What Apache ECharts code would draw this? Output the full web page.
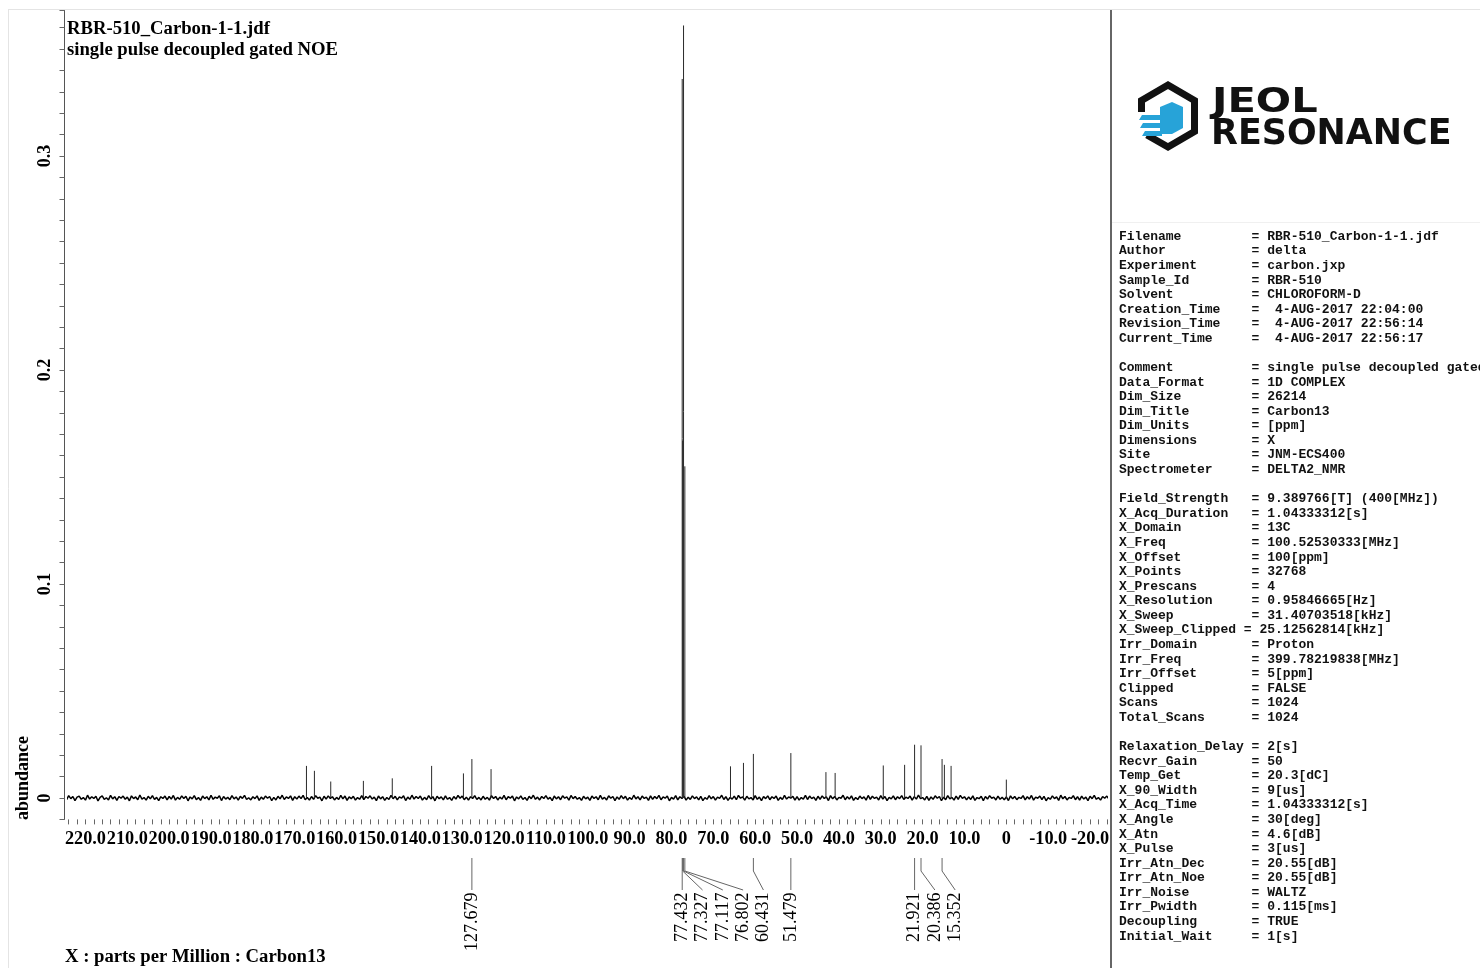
<!DOCTYPE html>
<html>
<head>
<meta charset="utf-8">
<script src="https://cdn.jsdelivr.net/npm/echarts@6/dist/echarts.min.js"></script>
<style>
html,body{margin:0;padding:0;background:#fff;}
#chart{width:1480px;height:968px;}
</style>
</head>
<body>
<div id="chart"></div>
<script>
// ---------------- DATA ----------------
const titleLines = ['RBR-510_Carbon-1-1.jdf', 'single pulse decoupled gated NOE'];
const xAxisTitle = 'X : parts per Million : Carbon13';
const yAxisTitle = 'abundance';

// axis extents (ppm, abundance)
const xRange = [-24, 224];
const yRange = [-0.01, 0.368];

// resolved peaks: chemical shift (ppm) and height (abundance)
const peakPpm = [167.2, 165.3, 161.4, 153.6, 146.7, 137.3, 129.7, 127.679, 123.1,
  77.432, 77.327, 77.117, 76.802, 65.9, 62.8, 60.431, 51.479, 43.1, 40.9, 29.4, 24.3,
  21.921, 20.386, 15.352, 14.8, 13.2, 0.0];
const peakHeight = [0.0150, 0.0127, 0.0077, 0.0080, 0.0092, 0.0150, 0.0115, 0.0182, 0.0135,
  0.336, 0.167, 0.361, 0.155, 0.0148, 0.0164, 0.0206, 0.0210, 0.0121, 0.0117, 0.0152, 0.0155,
  0.0249, 0.0246, 0.0182, 0.0155, 0.0150, 0.0086];

// peaks carrying a shift label below the axis
const labelPpm = [127.679, 77.432, 77.327, 77.117, 76.802, 60.431, 51.479, 21.921, 20.386, 15.352];

// baseline noise, sampled every 0.5 ppm from 225 ppm downward (units of 1e-4 abundance)
const noiseStartPpm = 225;
const noiseStepPpm = 0.5;
const noiseUnit = 1e-4;
const baselineNoise = [
  5,-8,11,-3,7,-12,4,9,-6,2, -10,13,-5,6,-2,8,-14,3,10,-7, 1,-9,12,-4,6,-11,7,-1,9,-6, 4,-13,10,-3,5,-8,14,-5,2,-10, 8,-4,11,-7,3,-12,6,-2,9,-9,
  7,-5,12,-10,3,-6,10,-2,8,-13, 5,-4,11,-8,2,-11,9,-3,6,-9, 13,-6,4,-1,10,-12,7,-5,3,-8, 11,-4,5,-10,8,-2,12,-7,1,-9, 6,-3,10,-11,4,-6,9,-1,7,-12,
  3,-9,8,-4,13,-7,5,-2,10,-11, 6,-5,9,-3,12,-8,2,-10,7,-6, 11,-1,4,-13,8,-5,10,-2,6,-9, 3,-7,12,-4,9,-11,5,-3,8,-10, 2,-6,11,-8,7,-1,10,-5,4,-12,
  9,-4,6,-11,2,-7,12,-3,8,-9, 5,-1,10,-12,4,-6,13,-5,7,-2, 9,-10,3,-8,11,-4,6,-13,8,-3, 5,-9,10,-6,2,-11,7,-5,12,-1, 9,-8,4,-10,6,-2,11,-7,3,-9,
  8,-6,3,-10,11,-2,7,-9,4,-5, 12,-8,6,-1,9,-13,5,-4,10,-7, 2,-11,8,-3,13,-6,4,-9,7,-2, 11,-5,3,-12,9,-4,6,-8,10,-1, 5,-10,12,-3,7,-6,2,-11,8,-4,
  4,-11,9,-2,6,-8,12,-5,3,-9, 10,-1,7,-12,5,-6,11,-3,8,-10, 2,-7,13,-4,6,-9,9,-2,4,-11, 10,-6,7,-3,12,-8,5,-1,9,-13, 3,-5,11,-9,6,-2,8,-10,4,-7,
  10,-3,5,-9,8,-12,2,-6,11,-4, 7,-10,4,-2,13,-7,6,-11,3,-5, 9,-8,12,-1,5,-10,8,-4,2,-9, 11,-6,4,-12,7,-3,10,-8,6,-2, 9,-11,3,-7,12,-5,5,-1,8,-10,
  6,-10,2,-5,12,-7,9,-3,4,-11, 8,-6,10,-2,5,-12,11,-4,7,-9, 3,-1,13,-8,6,-5,10,-11,2,-7, 9,-3,5,-10,12,-6,8,-2,4,-9, 11,-5,7,-12,3,-4,10,-8,6,-3,
  11,-7,4,-2,9,-10,6,-5,13,-3, 2,-9,8,-11,5,-6,10,-1,7,-12, 4,-8,11,-4,3,-10,9,-6,12,-2, 6,-9,5,-7,10,-11,2,-3,8,-12, 7,-5,11,-1,4,-9,9,-6,3,-8,
  5,-12,10,-4,7,-8,3,-2,11,-9, 6,-5,12,-10,4,-1,9,-7,8,-13, 2,-6,10,-3,5,-11,13,-4,7,-9, 3,-2,11,-8,6,-10,9,-5,4,-12, 8,-3,12,-6,2,-10,7,-1,9,-5,
  3
];

// acquisition parameters panel: [key, value], null = blank line
const infoRows = [
  ['Filename', 'RBR-510_Carbon-1-1.jdf'], ['Author', 'delta'], ['Experiment', 'carbon.jxp'],
  ['Sample_Id', 'RBR-510'], ['Solvent', 'CHLOROFORM-D'], ['Creation_Time', ' 4-AUG-2017 22:04:00'],
  ['Revision_Time', ' 4-AUG-2017 22:56:14'], ['Current_Time', ' 4-AUG-2017 22:56:17'], null,
  ['Comment', 'single pulse decoupled gated NOE'], ['Data_Format', '1D COMPLEX'], ['Dim_Size', '26214'],
  ['Dim_Title', 'Carbon13'], ['Dim_Units', '[ppm]'], ['Dimensions', 'X'], ['Site', 'JNM-ECS400'],
  ['Spectrometer', 'DELTA2_NMR'], null,
  ['Field_Strength', '9.389766[T] (400[MHz])'], ['X_Acq_Duration', '1.04333312[s]'], ['X_Domain', '13C'],
  ['X_Freq', '100.52530333[MHz]'], ['X_Offset', '100[ppm]'], ['X_Points', '32768'], ['X_Prescans', '4'],
  ['X_Resolution', '0.95846665[Hz]'], ['X_Sweep', '31.40703518[kHz]'], ['X_Sweep_Clipped', '25.12562814[kHz]'],
  ['Irr_Domain', 'Proton'], ['Irr_Freq', '399.78219838[MHz]'], ['Irr_Offset', '5[ppm]'], ['Clipped', 'FALSE'],
  ['Scans', '1024'], ['Total_Scans', '1024'], null,
  ['Relaxation_Delay', '2[s]'], ['Recvr_Gain', '50'], ['Temp_Get', '20.3[dC]'], ['X_90_Width', '9[us]'],
  ['X_Acq_Time', '1.04333312[s]'], ['X_Angle', '30[deg]'], ['X_Atn', '4.6[dB]'], ['X_Pulse', '3[us]'],
  ['Irr_Atn_Dec', '20.55[dB]'], ['Irr_Atn_Noe', '20.55[dB]'], ['Irr_Noise', 'WALTZ'], ['Irr_Pwidth', '0.115[ms]'],
  ['Decoupling', 'TRUE'], ['Initial_Wait', '1[s]']
];
const logoWords = ['JEOL', 'RESONANCE'];

// ---------------- LAYOUT / STYLE ----------------
const SERIF = 'Liberation Serif';
const MONO = 'Liberation Mono';
const LAYOUT = {
  grid: { left: 68.7, top: 10.5, width: 1038.1, height: 808.9 },
  labelGap: 20.3,         // min px between shift labels
  stubTop: 38.6, stubBend: 51.6, stubEnd: 70.6, textTop: 73  // px below the axis bottom
};

function layoutLabels(xs) {
  const order = xs.map((x, i) => i).sort((a, b) => xs[a] - xs[b]);
  const out = new Array(xs.length);
  let last = -Infinity;
  order.forEach(i => { const v = Math.max(xs[i], last + LAYOUT.labelGap); out[i] = v; last = v; });
  return out;
}

function isMultiple(v, step) {
  const r = v / step;
  return Math.abs(r - Math.round(r)) < 1e-6;
}

function boldText(x, y, text, size, extra) {
  return Object.assign({ type: 'text', x: x, y: y, style: {
    text: text, fontFamily: SERIF, fontWeight: 'bold', fontSize: size, fill: '#000',
    align: 'left', verticalAlign: 'middle' } }, extra || {});
}

const noiseData = baselineNoise.map((v, i) => [noiseStartPpm - i * noiseStepPpm, v * noiseUnit]);
const peakData = peakPpm.map((p, i) => [p, peakHeight[i]]);
const labelData = labelPpm.map(p => [p, yRange[0]]);

const infoText = infoRows.map(r => {
  if (!r) return '';
  const k = r[0];
  return (k.length >= 15 ? k + ' ' : k.padEnd(17)) + '= ' + r[1];
}).join('\n');

const chart = echarts.init(document.getElementById('chart'), null, { renderer: 'canvas' });

const option = {
  animation: false,
  backgroundColor: '#fff',
  grid: Object.assign({ outerBoundsMode: 'none', containLabel: false }, LAYOUT.grid),
  xAxis: {
    type: 'value', min: xRange[0], max: xRange[1], interval: 2, inverse: true,
    axisLine: { show: false, onZero: false },
    axisTick: { show: true, length: 5, lineStyle: { color: '#666', width: 1 } },
    splitLine: { show: false },
    axisLabel: {
      show: true, margin: 11, hideOverlap: false, showMinLabel: true, showMaxLabel: true,
      color: '#000', fontFamily: SERIF, fontWeight: 'bold', fontSize: 18.3,
      formatter: v => isMultiple(v, 10) ? (Math.abs(v) < 1e-9 ? '0' : v.toFixed(1)) : ''
    }
  },
  yAxis: {
    type: 'value', min: yRange[0], max: yRange[1], interval: 0.01, offset: 4.2,
    axisLine: { show: true, onZero: false, lineStyle: { color: '#555', width: 1 } },
    axisTick: { show: true, length: 5, lineStyle: { color: '#666', width: 1 } },
    splitLine: { show: false },
    axisLabel: {
      show: true, rotate: 90, margin: 10, hideOverlap: false,
      color: '#000', fontFamily: SERIF, fontWeight: 'bold', fontSize: 18,
      formatter: v => (v > -1e-9 && isMultiple(v, 0.1)) ? (Math.abs(v) < 1e-9 ? '0' : String(+v.toFixed(1))) : ''
    }
  },
  series: [
    {
      name: 'baseline', type: 'line', data: noiseData, symbol: 'none', clip: false,
      lineStyle: { color: '#000', width: 1.5 }, silent: true, z: 2
    },
    {
      name: 'peaks', type: 'custom', data: peakData, clip: false, silent: true, z: 3,
      encode: { x: 0, y: 1 },
      renderItem: (params, api) => {
        const p = api.value(0), h = api.value(1);
        const a = api.coord([p, 0]), b = api.coord([p, h]);
        return { type: 'line', shape: { x1: a[0], y1: a[1], x2: b[0], y2: b[1] },
          style: { stroke: '#2a2a2a', lineWidth: 1 } };
      }
    },
    {
      name: 'shiftLabels', type: 'custom', data: labelData, clip: false, silent: true, z: 3,
      encode: { x: 0, y: 1 },
      renderItem: (params, api) => {
        const i = params.dataIndex;
        const xs = labelPpm.map(p => api.coord([p, yRange[0]])[0]);
        const slots = layoutLabels(xs);
        const px = xs[i], lx = slots[i];
        const base = api.coord([labelPpm[i], yRange[0]])[1];
        const pts = Math.abs(lx - px) < 0.5
          ? [[px, base + LAYOUT.stubTop], [px, base + LAYOUT.stubEnd]]
          : [[px, base + LAYOUT.stubTop], [px, base + LAYOUT.stubBend], [lx, base + LAYOUT.stubEnd]];
        return {
          type: 'group',
          children: [
            { type: 'polyline', shape: { points: pts }, style: { stroke: '#666', lineWidth: 1, fill: null } },
            { type: 'text', x: lx, y: base + LAYOUT.textTop, rotation: Math.PI / 2,
              style: { text: labelPpm[i].toFixed(3), fontFamily: SERIF, fontSize: 18, fill: '#000',
                align: 'right', verticalAlign: 'middle' } }
          ]
        };
      }
    }
  ],
  graphic: [
    // page frame
    { type: 'line', shape: { x1: 8, y1: 9.5, x2: 1480, y2: 9.5 }, style: { stroke: '#e4e4e4', lineWidth: 1 } },
    { type: 'line', shape: { x1: 8.5, y1: 9.5, x2: 8.5, y2: 968 }, style: { stroke: '#e4e4e4', lineWidth: 1 } },
    { type: 'line', shape: { x1: 1111, y1: 10, x2: 1111, y2: 968 }, style: { stroke: '#333', lineWidth: 1.5 } },
    { type: 'line', shape: { x1: 1112, y1: 222.5, x2: 1480, y2: 222.5 }, style: { stroke: '#f0f0f0', lineWidth: 1 } },
    // titles
    boldText(67, 29, titleLines[0], 18.7),
    boldText(67, 50, titleLines[1], 18.7),
    boldText(65, 957, xAxisTitle, 18.7),
    boldText(23, 820, yAxisTitle, 18, { rotation: Math.PI / 2 }),
    // logo
    { type: 'polyline', shape: { points: [[1141.5, 112], [1141.5, 100.5], [1168, 85], [1194.5, 100.5], [1194.5, 131.5], [1168, 147], [1147, 135]] },
      style: { stroke: '#111', lineWidth: 7, fill: null, lineJoin: 'miter' } },
    { type: 'polygon', shape: { points: [[1160, 107], [1172, 102], [1183, 107], [1183, 128], [1172, 134], [1160, 134]] }, style: { fill: '#27a3d8' } },
    { type: 'polygon', shape: { points: [[1139, 120], [1142, 115], [1162, 115], [1162, 120]] }, style: { fill: '#27a3d8' } },
    { type: 'polygon', shape: { points: [[1140, 128], [1143, 123], [1162, 123], [1162, 128]] }, style: { fill: '#27a3d8' } },
    { type: 'polygon', shape: { points: [[1142, 136], [1145, 131], [1162, 131], [1162, 136]] }, style: { fill: '#27a3d8' } },
    { type: 'text', x: 1212, y: 103, scaleX: 1.26, style: { text: logoWords[0], fontFamily: 'DejaVu Sans', fontWeight: 'bold', fontSize: 33, fill: '#111', align: 'left', verticalAlign: 'middle' } },
    { type: 'text', x: 1211, y: 135, scaleX: 0.97, style: { text: logoWords[1], fontFamily: 'DejaVu Sans', fontWeight: 'bold', fontSize: 36, fill: '#111', align: 'left', verticalAlign: 'middle' } },
    // parameter panel
    { type: 'text', x: 1119, y: 229.2, style: { text: infoText, fontFamily: MONO, fontWeight: 'bold', fontSize: 13, lineHeight: 14.58, fill: '#111', align: 'left', verticalAlign: 'top' } }
  ]
};

chart.setOption(option);
</script>
</body>
</html>
